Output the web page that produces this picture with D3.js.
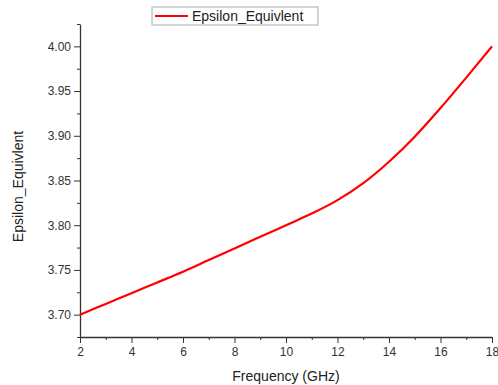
<!DOCTYPE html>
<html>
<head>
<meta charset="utf-8">
<script src="https://cdn.jsdelivr.net/npm/d3@7"></script>
<style>
  body { margin: 0; background: #fff; }
  text { font-family: "Liberation Sans", Arial, sans-serif; }
</style>
</head>
<body>
<div id="chart"></div>
<script>
// Data
const frequency = [2, 3, 4, 5, 6, 7, 8, 9, 10, 11, 12, 13, 14, 15, 16, 17, 18];
const epsilon = [3.700, 3.712, 3.724, 3.736, 3.748, 3.761, 3.774, 3.787, 3.800,
  3.813, 3.828, 3.847, 3.871, 3.899, 3.931, 3.965, 4.000];
const xTicks = [2, 4, 6, 8, 10, 12, 14, 16, 18];
const yTicks = [3.70, 3.75, 3.80, 3.85, 3.90, 3.95, 4.00];
const seriesName = "Epsilon_Equivlent";

const dataset = frequency.map((f, i) => ({ f, e: epsilon[i] }));

// Dimensions
const dimensions = {
  width: 498,
  height: 385,
  margin: { top: 24, bottom: 48, left: 80, right: 6 },
};
dimensions.containerWidth = dimensions.width - dimensions.margin.left - dimensions.margin.right;
dimensions.containerHeight = dimensions.height - dimensions.margin.top - dimensions.margin.bottom;

const svg = d3.select("#chart")
  .append("svg")
  .attr("width", dimensions.width)
  .attr("height", dimensions.height);

const container = svg.append("g")
  .attr("transform", `translate(${dimensions.margin.left}, ${dimensions.margin.top})`);

// Scales
const xScale = d3.scaleLinear()
  .domain([2, 18])
  .range([0, dimensions.containerWidth]);
const yScale = d3.scaleLinear()
  .domain([3.675, 4.025])
  .range([dimensions.containerHeight, 0]);

const axisColor = "#333";

// Minor ticks
const xAxisMinor = d3.axisBottom(xScale)
  .tickValues(d3.range(3, 18, 2))
  .tickSize(3)
  .tickFormat("");
const yAxisMinor = d3.axisLeft(yScale)
  .tickValues(d3.range(3.675, 4.026, 0.025).filter((v) => Math.abs(Math.round(v * 20) - v * 20) > 0.1))
  .tickSize(3)
  .tickFormat("");

container.append("g")
  .attr("transform", `translate(0, ${dimensions.containerHeight})`)
  .call(xAxisMinor)
  .call((g) => g.select(".domain").remove())
  .selectAll("line").attr("stroke", axisColor);
container.append("g")
  .call(yAxisMinor)
  .call((g) => g.select(".domain").remove())
  .selectAll("line").attr("stroke", axisColor);

// Axes
const xAxis = d3.axisBottom(xScale)
  .tickValues(xTicks)
  .tickSize(6)
  .tickSizeOuter(0)
  .tickPadding(4);
const xAxisGroup = container.append("g")
  .attr("transform", `translate(0, ${dimensions.containerHeight})`)
  .call(xAxis);
xAxisGroup.select(".domain").attr("stroke", axisColor).attr("stroke-width", 1.3);
xAxisGroup.selectAll("line").attr("stroke", axisColor);
xAxisGroup.selectAll("text")
  .attr("fill", axisColor)
  .style("font-size", "12px");

const yAxis = d3.axisLeft(yScale)
  .tickValues(yTicks)
  .tickSize(6)
  .tickSizeOuter(0)
  .tickPadding(3)
  .tickFormat(d3.format(".2f"));
const yAxisGroup = container.append("g").call(yAxis);
yAxisGroup.select(".domain").attr("stroke", axisColor).attr("stroke-width", 1.3);
yAxisGroup.selectAll("line").attr("stroke", axisColor);
yAxisGroup.selectAll("text")
  .attr("fill", axisColor)
  .style("font-size", "12px");

// Axis titles
svg.append("text")
  .attr("x", dimensions.margin.left + dimensions.containerWidth / 2)
  .attr("y", 381)
  .attr("text-anchor", "middle")
  .attr("fill", "#222")
  .style("font-size", "14px")
  .text("Frequency (GHz)");

svg.append("text")
  .attr("transform", `translate(23, ${dimensions.margin.top + dimensions.containerHeight / 2 + 6}) rotate(-90)`)
  .attr("text-anchor", "middle")
  .attr("fill", "#222")
  .style("font-size", "14px")
  .text(seriesName);

// Line
const line = d3.line()
  .x((d) => xScale(d.f))
  .y((d) => yScale(d.e))
  .curve(d3.curveMonotoneX);

container.append("path")
  .datum(dataset)
  .attr("fill", "none")
  .attr("stroke", "#ff0000")
  .attr("stroke-width", 2.2)
  .attr("d", line);

// Legend
const legend = svg.append("g").attr("transform", "translate(152, 7)");
legend.append("rect")
  .attr("width", 166)
  .attr("height", 18)
  .attr("fill", "#fff")
  .attr("stroke", "#aaa");
legend.append("line")
  .attr("x1", 3).attr("x2", 36)
  .attr("y1", 9).attr("y2", 9)
  .attr("stroke", "#ff0000")
  .attr("stroke-width", 2.2);
legend.append("text")
  .attr("x", 40)
  .attr("y", 14)
  .attr("fill", "#222")
  .style("font-size", "14px")
  .text(seriesName);
</script>
</body>
</html>
